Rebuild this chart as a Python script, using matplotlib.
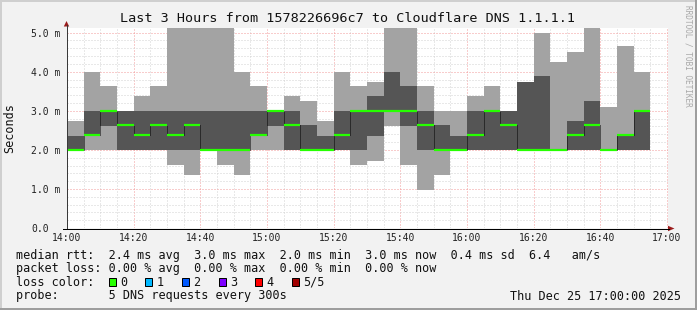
import matplotlib

matplotlib.use("Agg")
import matplotlib.pyplot as plt  # noqa: E402
import numpy as np  # noqa: E402
from matplotlib.patches import Polygon, Rectangle  # noqa: E402

W, H = 697, 310
MONO = "DejaVu Sans Mono"
BACK = "#f2f2f2"
LIGHT = "#a3a3a3"
DARK = "#555555"
MEDIAN = "#26ff00"
ARROW = "#9b1c1c"

# 5-minute bins, minutes after 14:00
bin_start = np.arange(35) * 5
# smoke: outer band (ping 1..5) and inner band (ping 2..4), ms
outer_lo = [2.0, 2.0, 2.0, 2.0, 2.0, 2.0, 1.62, 1.36, 2.0, 1.62, 1.36, 2.0,
            2.0, 2.0, 2.0, 2.0, 2.0, 1.62, 1.72, 2.62, 1.62, 0.97, 1.36, 2.0,
            2.0, 2.0, 2.0, 2.0, 2.0, 2.0, 2.0, 2.0, 2.0, 2.0, 2.0]
outer_hi = [2.74, 4.0, 3.64, 3.0, 3.38, 3.64, 5.2, 5.2, 5.2, 5.2, 4.0, 3.64,
            3.0, 3.38, 3.26, 2.74, 4.0, 3.64, 3.74, 5.2, 5.2, 3.64, 3.0, 3.0,
            3.38, 3.64, 3.0, 3.74, 5.0, 4.26, 4.5, 5.2, 3.1, 4.65, 4.0]
inner_lo = [2.0, 2.36, 2.62, 2.0, 2.0, 2.0, 2.0, 2.0, 2.0, 2.0, 2.0, 2.36,
            2.62, 2.0, 2.0, 2.0, 2.0, 2.0, 2.36, 3.0, 2.62, 2.0, 2.0, 2.0,
            2.0, 2.0, 2.0, 2.0, 2.0, 2.0, 2.0, 2.0, 2.0, 2.0, 2.0]
inner_hi = [2.36, 3.0, 3.0, 3.0, 3.0, 3.0, 3.0, 3.0, 3.0, 3.0, 3.0, 3.0,
            3.0, 3.0, 2.63, 2.36, 3.0, 3.0, 3.38, 4.0, 3.64, 3.0, 2.63, 2.36,
            3.0, 3.0, 3.0, 3.74, 3.9, 2.0, 2.74, 3.26, 2.0, 2.36, 3.0]
median = [2.0, 2.37, 3.0, 2.63, 2.37, 2.63, 2.37, 2.63, 2.0, 2.0, 2.0, 2.37,
          3.0, 2.63, 2.0, 2.0, 2.37, 3.0, 3.0, 3.0, 3.0, 2.63, 2.0, 2.0,
          2.37, 3.0, 2.63, 2.0, 2.0, 2.0, 2.37, 2.63, 2.0, 2.37, 3.0]

x_ticks = [0, 20, 40, 60, 80, 100, 120, 140, 160, 180]
x_labels = ["14:00", "14:20", "14:40", "15:00", "15:20", "15:40",
            "16:00", "16:20", "16:40", "17:00"]
y_ticks = [0, 1, 2, 3, 4, 5]
y_labels = ["0.0", "1.0 m", "2.0 m", "3.0 m", "4.0 m", "5.0 m"]

title = "Last 3 Hours from 1578226696c7 to Cloudflare DNS 1.1.1.1"
legend_rows = [
    "median rtt:  2.4 ms avg  3.0 ms max  2.0 ms min  3.0 ms now  0.4 ms sd  6.4   am/s",
    "packet loss: 0.00 % avg  0.00 % max  0.00 % min  0.00 % now",
    "loss color:",
    "probe:       5 DNS requests every 300s",
]
loss_labels = ["0", "1", "2", "3", "4", "5/5"]
loss_colors = ["#26ff00", "#00b8ff", "#0059ff", "#7e00ff", "#ff0000", "#a10000"]
stamp = "Thu Dec 25 17:00:00 2025"


def pt(px):
    return px * 0.72


fig = plt.figure(figsize=(W / 100, H / 100), dpi=100, facecolor=BACK)

# plot canvas: x 67..668 px, y 28..228 px
ax = fig.add_axes([67 / W, (H - 228) / H, 601 / W, 200 / H])
ax.set_facecolor("white")
ax.set_xlim(0, 180.3)
ax.set_ylim(0, 5.12)
for s in ax.spines.values():
    s.set_visible(False)
ax.set_axisbelow(True)

ax.set_xticks(x_ticks)
ax.set_xticklabels(x_labels, family=MONO, fontsize=7, color="#222222")
ax.set_xticks(np.arange(0, 181, 5), minor=True)
ax.set_yticks(y_ticks)
ax.set_yticklabels(y_labels, family=MONO, fontsize=7, color="#222222", ha="left")
ax.set_yticks(np.arange(0, 5.1, 0.2), minor=True)
ax.tick_params(axis="y", which="major", length=0, pad=pt(36))
ax.tick_params(axis="x", which="major", length=0, pad=pt(5))
ax.tick_params(which="minor", length=0)
ax.grid(which="minor", color="#d2d2d2", lw=pt(1), ls=(0, (1, 2)))
ax.grid(which="major", color="#f29a9a", lw=pt(1), ls=(0, (1, 2)))

ax.bar(bin_start, np.subtract(outer_hi, outer_lo), bottom=outer_lo, width=5,
       align="edge", color=LIGHT, lw=0, zorder=2)
ax.bar(bin_start, np.subtract(inner_hi, inner_lo), bottom=inner_lo, width=5,
       align="edge", color=DARK, lw=0, zorder=3)

med = np.asarray(median)
step = np.nonzero(np.diff(med))[0] + 1
ax.vlines(bin_start[step], np.minimum(med[step - 1], med[step]),
          np.maximum(med[step - 1], med[step]), color="black", lw=pt(1),
          ls=(0, (1, 1)), zorder=4)
ax.hlines(med, bin_start, bin_start + 5, color=MEDIAN, lw=pt(2.2), zorder=5)

# decorations in pixel coordinates
ov = fig.add_axes([0, 0, 1, 1], zorder=5)
ov.set_xlim(0, W)
ov.set_ylim(H, 0)
ov.axis("off")

# frame shading
ov.plot([0, W], [1, 1], color="#cfcfcf", lw=pt(2))
ov.plot([1, 1], [0, H], color="#cfcfcf", lw=pt(2))
ov.plot([W - 1.5, W - 1.5], [0, H], color="#9e9e9e", lw=pt(3))
ov.plot([0, W], [H - 1.5, H - 1.5], color="#9e9e9e", lw=pt(3))

# axes with arrows
ov.plot([66.5, 66.5], [228.5, 25], color="#3a3a3a", lw=pt(1))
ov.plot([63, 669], [228.5, 228.5], color="black", lw=pt(1))
ov.add_patch(Polygon([[63.8, 26.5], [69.2, 26.5], [66.5, 21]], closed=True,
                     color=ARROW, lw=0))
ov.add_patch(Polygon([[668, 225.8], [668, 231.2], [674.5, 228.5]], closed=True,
                     color=ARROW, lw=0))

ov.text(348, 19, title, family=MONO, fontsize=9.7, ha="center", va="center",
        color="#111111")
ov.text(10, 128, "Seconds", family=MONO, fontsize=8.5, rotation=90,
        ha="center", va="center", color="#111111")
ov.text(688, 5, "RRDTOOL / TOBI OETIKER", family=MONO, fontsize=5.6,
        rotation=270, ha="center", va="top", color="#a8a8a8")

row_y = [255, 268.5, 282, 296]
for txt, y in zip(legend_rows, row_y):
    ov.text(16, y, txt, family=MONO, fontsize=8.5, ha="left", va="center",
            color="#111111")
for i, (lab, col) in enumerate(zip(loss_labels, loss_colors)):
    x0 = 108.5 + 36.7 * i
    ov.add_patch(Rectangle((x0, 277.5), 7, 8, facecolor=col,
                           edgecolor="black", lw=pt(1)))
    ov.text(x0 + 11.5, 282, lab, family=MONO, fontsize=8.5, ha="left",
            va="center", color="#111111")
ov.text(681, 296, stamp, family=MONO, fontsize=8.5, ha="right", va="center",
        color="#111111")

fig.savefig("out.png", dpi=100, facecolor=BACK)
